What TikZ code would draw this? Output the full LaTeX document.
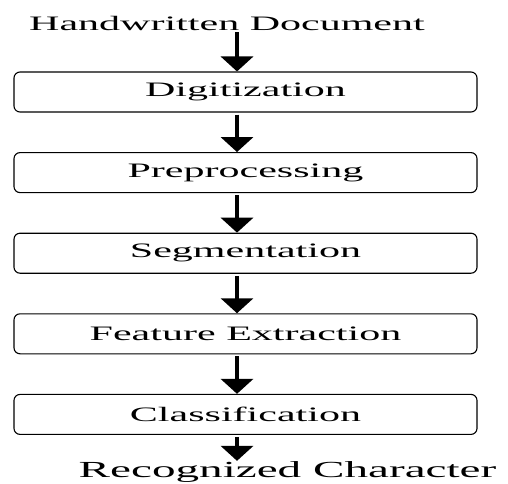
\documentclass[tikz,border=0pt]{standalone}
\usepackage{fontspec}
\setmainfont{Liberation Serif}
\usetikzlibrary{positioning,arrows.meta}
\newcommand{\wide}[1]{\scalebox{2.05}[1]{#1}}
\tikzset{
  stage/.style={draw,rounded corners=6pt,line width=1.1pt,minimum width=463pt,minimum height=40pt,inner sep=0pt,font=\fontsize{20.5pt}{22pt}\selectfont},
  flow/.style={line width=4.5pt,-{Triangle[width=32pt,length=15pt]}},
  label text/.style={anchor=base,inner sep=0pt},
}
\begin{document}
\begin{tikzpicture}[x=1pt,y=-1pt,node distance=39.5pt]
  \useasboundingbox (0,0) rectangle (508,483);
  \coordinate (ax) at (237,0);
  \node[label text,font=\fontsize{20.5pt}{22pt}\selectfont] (hw) at (227,30) {\wide{Handwritten Document}};
  \node[stage] (dig) at (245.5,92) {\wide{Digitization}};
  \node[stage,below=of dig] (pre) {\wide{Preprocessing}};
  \node[stage,below=of pre] (seg) {\wide{Segmentation}};
  \node[stage,below=of seg] (feat) {\wide{Feature Extraction}};
  \node[stage,below=of feat] (cls) {\wide{Classification}};
  \node[label text,font=\fontsize{23pt}{25pt}\selectfont] (rec) at (287.5,477) {\wide{Recognized Character}};
  \foreach \a/\b in {hw/dig,dig/pre,pre/seg,seg/feat,feat/cls,cls/rec}
    \draw[flow,shorten <=2pt] (\a.south -| ax) -- (\b.north -| ax);
\end{tikzpicture}
\end{document}
